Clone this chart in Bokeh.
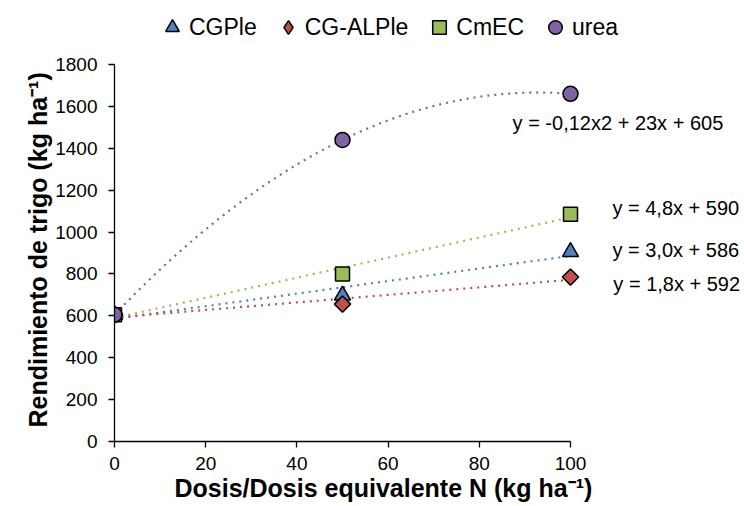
import numpy as np
from bokeh.plotting import figure
from bokeh.models import Legend, LegendItem, Label, Range1d, FixedTicker, Title
from bokeh.embed import file_html
from bokeh.resources import INLINE

# ---- data ----
dose = [0, 50, 100]
cgple = [605, 698, 905]
cgalple = [605, 656, 785]
cmec = [605, 800, 1085]
urea = [605, 1440, 1660]
series_names = ["CGPle", "CG-ALPle", "CmEC", "urea"]
equations = ["y = 3,0x + 586", "y = 1,8x + 592", "y = 4,8x + 590", "y = -0,12x2 + 23x + 605"]
x_ticks = [0, 20, 40, 60, 80, 100]
y_ticks = [0, 200, 400, 600, 800, 1000, 1200, 1400, 1600, 1800]
x_title = "Dosis/Dosis equivalente N (kg ha\u207b\u00b9)"
y_title = "Rendimiento de trigo (kg ha\u207b\u00b9)"

FONT = "Liberation Sans"

p = figure(width=744, height=506, output_backend="svg", toolbar_location=None,
           x_range=Range1d(0, 138.16), y_range=Range1d(0, 2105.6),
           min_border_left=114, min_border_right=0, min_border_top=0, min_border_bottom=65)
p.outline_line_color = None
p.xgrid.visible = False
p.ygrid.visible = False
p.background_fill_color = "white"

for ax, ticks, bounds in ((p.xaxis[0], x_ticks, (0, 100)), (p.yaxis[0], y_ticks, (0, 1800))):
    ax.ticker = FixedTicker(ticks=ticks)
    ax.bounds = bounds
    ax.axis_line_color = "black"
    ax.axis_line_width = 1.3
    ax.major_tick_line_color = "black"
    ax.major_tick_line_width = 1.3
    ax.major_tick_out = 6
    ax.major_tick_in = 0
    ax.minor_tick_line_color = None
    ax.major_label_text_font = FONT
    ax.major_label_text_font_size = "19px"
    ax.major_label_text_color = "black"

p.xaxis.major_label_standoff = 9
p.yaxis.major_label_standoff = 11

# axis titles as panels beside the axes
p.add_layout(Title(text=x_title, text_font=FONT, text_font_size="25px", text_font_style="bold",
                   text_color="black", align="left", offset=60, standoff=0,
                   vertical_align="middle"), "below")
p.add_layout(Title(text=y_title, text_font=FONT, text_font_size="25px", text_font_style="bold",
                   text_color="black", align="left", offset=14, standoff=0,
                   vertical_align="middle"), "left")

ys = [cgple, cgalple, cmec, urea]
colors = ["#4F81BD", "#C0504D", "#9BBB59", "#8064A2"]
degrees = [1, 1, 1, 2]
markers = ["triangle", "square", "square", "circle"]
legend_markers = ["triangle", "diamond", "square", "circle"]
sizes = [16, 11.5, 14, 15]
angles = [0, np.pi / 4, 0, 0]

xs_fit = np.linspace(0, 100, 201)
for y, c, d in zip(ys, colors, degrees):
    coef = np.polyfit(dose, y, d)
    p.line(xs_fit, np.polyval(coef, xs_fit), line_color=c, line_width=2.2, line_dash="2 5")

items = []
for name, y, c, m, lm, s, a in zip(series_names, ys, colors, markers, legend_markers, sizes, angles):
    r = p.scatter(dose, y, marker=m, size=s, angle=a, fill_color=c, line_color="black", line_width=1.5)
    if lm != m:
        lr = p.scatter(dose, y, marker=lm, size=s, fill_color=c, line_color="black",
                       line_width=1.5, visible=False)
        items.append(LegendItem(label=name, renderers=[lr]))
    else:
        items.append(LegendItem(label=name, renderers=[r]))

legend = Legend(items=items, orientation="horizontal", location=(41, 397),
                glyph_width=34, glyph_height=34, label_standoff=-6, spacing=14,
                padding=0, margin=0, border_line_alpha=0, background_fill_alpha=0,
                label_text_font=FONT, label_text_font_size="23px", label_text_color="black")
p.add_layout(legend)

eq_pos = [(109.2, 912), (109.4, 754), (109.2, 1112.5), (87.3, 1523)]
for eq, (ex, ey) in zip(equations, eq_pos):
    p.add_layout(Label(x=ex, y=ey, text=eq, text_font=FONT, text_font_size="20px",
                       text_color="black", text_baseline="middle", text_align="left"))

open("out.html", "w").write(file_html(p, INLINE))
